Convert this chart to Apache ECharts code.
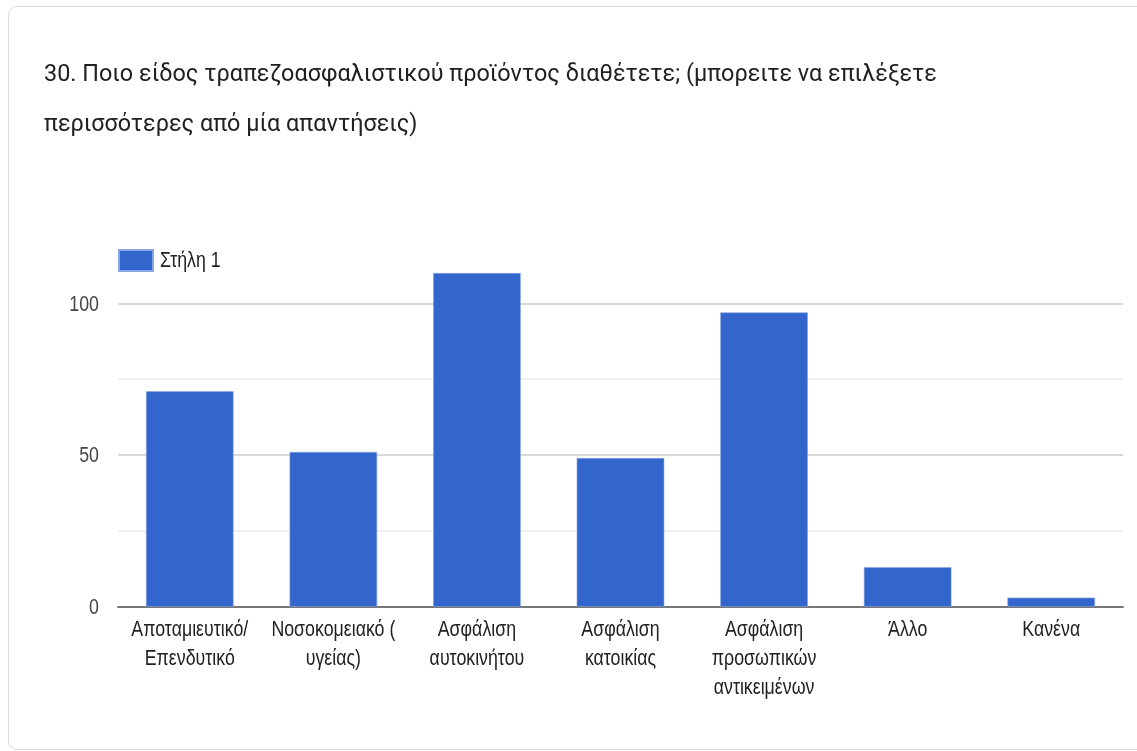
<!DOCTYPE html>
<html>
<head>
<meta charset="utf-8">
<script src="https://cdn.jsdelivr.net/npm/echarts@6/dist/echarts.min.js"></script>
<style>
  html, body { margin: 0; padding: 0; background: #ffffff; }
  #card {
    position: absolute; left: 8px; top: 6px; width: 1150px; height: 744px;
    border: 1px solid #dadce0; border-radius: 9px; background: #fff; box-sizing: border-box;
  }
  #chart { position: absolute; left: 0; top: 0; width: 1137px; height: 751px; }
</style>
</head>
<body>
<div id="card"></div>
<div id="chart"></div>
<script>
// Survey question 30: which bancassurance product respondents hold
const titleLines = [
  '30. Ποιο είδος τραπεζοασφαλιστικού προϊόντος διαθέτετε; (μπορειτε να επιλέξετε',
  'περισσότερες από μία απαντήσεις)'
];
const categories = [
  'Αποταμιευτικό/\nΕπενδυτικό',
  'Νοσοκομειακό (\nυγείας)',
  'Ασφάλιση\nαυτοκινήτου',
  'Ασφάλιση\nκατοικίας',
  'Ασφάλιση\nπροσωπικών\nαντικειμένων',
  'Άλλο',
  'Κανένα'
];
const seriesName = 'Στήλη 1';
const counts = [71, 51, 110, 49, 97, 13, 3];
const yLabels = [0, 50, 100];

// Axis and legend text uses a condensed look: a regular face squeezed horizontally
const textFont = '"Liberation Sans", Arial, sans-serif';
const textSize = 22.5;
const squeeze = 0.79;

const chart = echarts.init(document.getElementById('chart'), null, { renderer: 'canvas' });
chart.setOption({
  backgroundColor: 'transparent',
  animation: false,
  title: {
    text: titleLines.join('\n'),
    left: 44,
    top: 50,
    padding: 0,
    textStyle: {
      fontFamily: 'Roboto, "Noto Sans", sans-serif',
      fontSize: 23.4,
      fontWeight: 'normal',
      color: '#202124',
      lineHeight: 50
    }
  },
  legend: {
    left: 118,
    top: 249,
    padding: 0,
    itemWidth: 34,
    itemHeight: 21,
    icon: 'rect',
    formatter: function () { return ''; },
    data: [seriesName]
  },
  grid: { left: 118, right: 14, top: 227.5, bottom: 144.3 },
  xAxis: {
    type: 'category',
    data: categories,
    axisLine: { show: true, lineStyle: { color: '#777', width: 2 } },
    axisTick: { show: false },
    axisLabel: { show: false }
  },
  yAxis: {
    type: 'value',
    min: 0,
    max: 125,
    interval: 25,
    axisLine: { show: false },
    axisTick: { show: false },
    axisLabel: { show: false },
    splitLine: {
      show: true,
      showMaxLine: false,
      lineStyle: { color: ['#cccccc', '#ebebeb'], width: 1.5 }
    }
  },
  series: [{
    name: seriesName,
    type: 'bar',
    data: counts,
    barCategoryGap: '39%',
    itemStyle: { color: '#3366cc', borderColor: '#8aa6e0', borderWidth: 0.6 }
  }]
});

// Place the condensed labels at positions taken from the chart's own axes
function squeezedText(x, y, text, align, vAlign, color) {
  return {
    type: 'text',
    x: x,
    y: y,
    scaleX: squeeze,
    silent: true,
    style: {
      text: text,
      fontFamily: textFont,
      fontSize: textSize,
      lineHeight: 29,
      fill: color,
      align: align,
      verticalAlign: vAlign
    }
  };
}

const gridRect = chart.getModel().getComponent('grid', 0).coordinateSystem.getRect();
const labels = [];
categories.forEach(function (name, i) {
  const p = chart.convertToPixel({ xAxisIndex: 0, yAxisIndex: 0 }, [i, 0]);
  labels.push(squeezedText(p[0], p[1] + 9, name, 'center', 'top', '#222'));
});
yLabels.forEach(function (v) {
  const p = chart.convertToPixel({ xAxisIndex: 0, yAxisIndex: 0 }, [0, v]);
  labels.push(squeezedText(gridRect.x - 19, p[1] + 1, String(v), 'right', 'middle', '#444'));
});
labels.push(squeezedText(gridRect.x + 42, 260.5, seriesName, 'left', 'middle', '#222'));
chart.setOption({ graphic: labels });
</script>
</body>
</html>
